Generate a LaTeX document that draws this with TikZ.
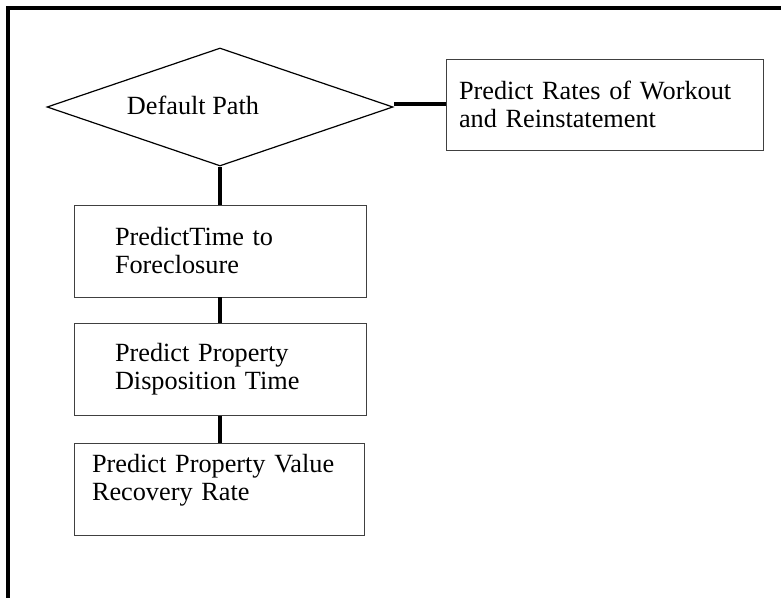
\documentclass[tikz,border=0pt]{standalone}
\usepackage{fontspec}
\setmainfont{Liberation Serif}
\usetikzlibrary{shapes.geometric}

\tikzset{
    txt/.style={font=\fontsize{19.7pt}{21pt}\selectfont},
    box/.style={txt, draw=black!75, line width=0.6pt, rectangle, align=left, minimum height=69pt},
    decision/.style={draw, diamond, line width=0.9pt, inner sep=0pt, minimum width=259.5pt, minimum height=88.5pt},
    link/.style={line width=3pt},
}

\begin{document}
\begin{tikzpicture}[x=0.75pt, y=-0.75pt]
        \useasboundingbox (0,0) rectangle (781,598);
        \draw[line width=3pt] (8,598) -- (8,8) -- (781,8);
        \node[decision] (dp) at (220,107) {};
        \node[txt] (dptext) at (193,105) {Default Path};
        \node[box, text width=218.25pt, inner xsep=9.75pt, minimum width=237.75pt, minimum height=68.25pt] (rates) at (604.5,104.5) {Predict Rates of Workout\\and Reinstatement};
        \node[box, text width=157.5pt, inner xsep=30.75pt, minimum width=219pt] (foreclose) at (220,251) {PredictTime to\\Foreclosure};
        \node[box, text width=157.5pt, inner xsep=30.75pt, minimum width=219pt] (dispose) at (220,369.5) {Predict Property\\Disposition Time};
        \node[box, text width=190.5pt, inner xsep=13.5pt, minimum width=217.5pt, text height=13.5pt, text depth=39pt] (recover) at (219,489) {Predict Property Value\\Recovery Rate};
        \draw[link] (dp.south) -- (foreclose.north);
        \draw[link] (foreclose.south) -- (dispose.north);
        \draw[link] (dispose.south) -- (dispose.south |- recover.north);
        \draw[link] (rates.west) -- (rates.west -| dp.east);
\end{tikzpicture}
\end{document}
